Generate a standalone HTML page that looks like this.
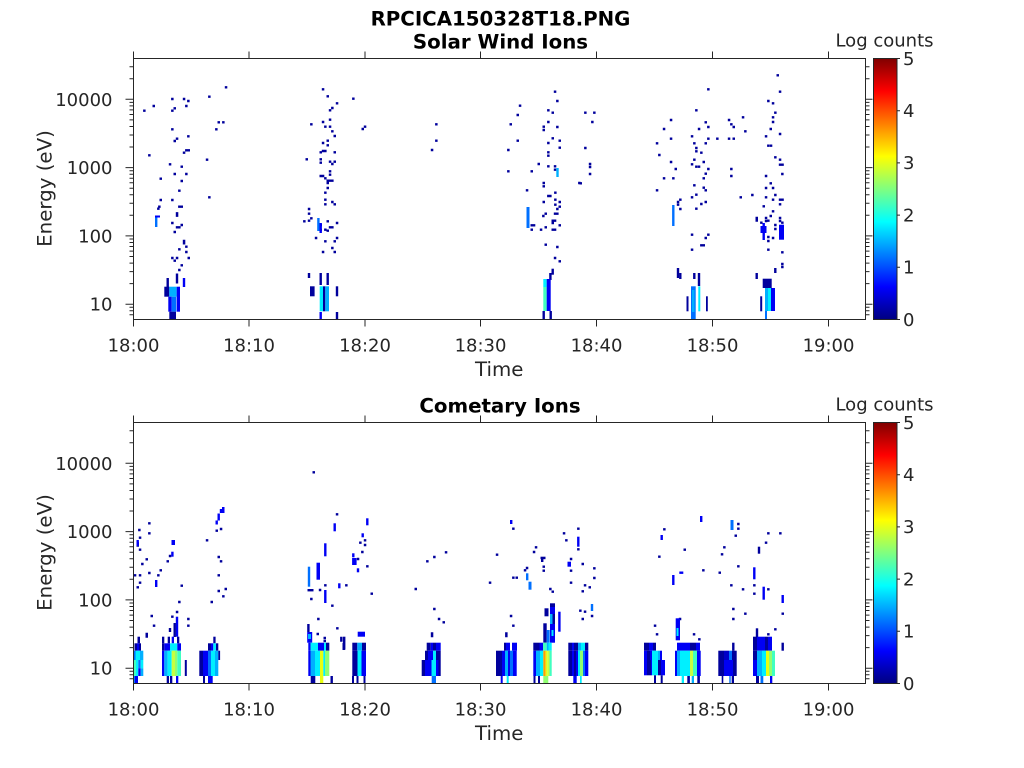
<!DOCTYPE html>
<html><head><meta charset="utf-8"><style>
html,body{margin:0;padding:0;background:#fff;}
svg{display:block;}
.N{fill:#00009c}.B{fill:#0000f5}.L{fill:#0070ff}.A{fill:#00b0ff}.C{fill:#00f0ff}.T{fill:#40ffc0}.G{fill:#90ff70}.Y{fill:#e8ff10}.O{fill:#ffa000}.K{fill:#c8ff40}
text{font-family:"DejaVu Sans","Liberation Sans",sans-serif;fill:#262626;}
.tk{font-size:18px;}
.lb{font-size:19.8px;}
.tt{font-size:19.8px;font-weight:bold;fill:#000;}
</style></head><body>
<svg width="1024" height="768" viewBox="0 0 1024 768" xmlns="http://www.w3.org/2000/svg">
<defs>
<linearGradient id="jet" x1="0" y1="0" x2="0" y2="1">
<stop offset="0" stop-color="#800000"/><stop offset="0.125" stop-color="#ff0000"/><stop offset="0.375" stop-color="#ffff00"/><stop offset="0.625" stop-color="#00ffff"/><stop offset="0.875" stop-color="#0000ff"/><stop offset="1" stop-color="#000080"/>
</linearGradient>
<g id="ax" fill="none" stroke="#262626" stroke-width="1">
<path d="M133.5 58.5H865.5V319.5H133.5Z"/>
<path d="M133.5 319.5v7M249 319.5v7M365 319.5v7M480.5 319.5v7M596.5 319.5v7M712.5 319.5v7M828.5 319.5v7M133.5 58.5v-7M249 58.5v-7M365 58.5v-7M480.5 58.5v-7M596.5 58.5v-7M712.5 58.5v-7M828.5 58.5v-7"/>
<path d="M125.5 99.3h8M865.5 99.3h7M125.5 167.6h8M865.5 167.6h7M125.5 235.9h8M865.5 235.9h7M125.5 304.2h8M865.5 304.2h7"/>
<path d="M129.5 314.8h4M865.5 314.8h4M129.5 310.8h4M865.5 310.8h4M129.5 307.3h4M865.5 307.3h4M129.5 283.6h4M865.5 283.6h4M129.5 271.6h4M865.5 271.6h4M129.5 263.1h4M865.5 263.1h4M129.5 256.5h4M865.5 256.5h4M129.5 251.1h4M865.5 251.1h4M129.5 246.5h4M865.5 246.5h4M129.5 242.5h4M865.5 242.5h4M129.5 239h4M865.5 239h4M129.5 215.3h4M865.5 215.3h4M129.5 203.3h4M865.5 203.3h4M129.5 194.8h4M865.5 194.8h4M129.5 188.2h4M865.5 188.2h4M129.5 182.8h4M865.5 182.8h4M129.5 178.2h4M865.5 178.2h4M129.5 174.2h4M865.5 174.2h4M129.5 170.7h4M865.5 170.7h4M129.5 147h4M865.5 147h4M129.5 135h4M865.5 135h4M129.5 126.5h4M865.5 126.5h4M129.5 119.9h4M865.5 119.9h4M129.5 114.5h4M865.5 114.5h4M129.5 109.9h4M865.5 109.9h4M129.5 105.9h4M865.5 105.9h4M129.5 102.4h4M865.5 102.4h4M129.5 78.7h4M865.5 78.7h4M129.5 66.7h4M865.5 66.7h4"/>
<rect x="873.5" y="58.5" width="23.5" height="261" fill="url(#jet)"/>
<path d="M897 58.5h3M897 110.7h3M897 162.9h3M897 215.1h3M897 267.3h3M897 319.5h3"/>
</g>
</defs>

<!-- ===== TOP PANEL DATA ===== -->
<g>
<path fill="none" stroke="#00009c" stroke-width="2.4" stroke-linecap="square" d="M226 87.3h.1M209.3 96.7h.1M172.3 99h.1M184 99h.1M188.3 101h.1M153.7 106h.1M186.3 106h.1M144.3 110.7h.1M172.3 110.7h.1M174.7 108.3h.1M218.7 122.3h.1M223.3 122.3h.1M216.3 129.3h.1M172.3 129.3h.1M188.3 136.3h.1M177 138.7h.1M174.7 141h.1M186.3 150.3h.1M188.7 150.3h.1M184 152.7h.1M149.3 155.3h.1M207 159.7h.1M170 164.3h.1M181.7 166.7h.1M174.7 174h.1M186.3 174h.1M160.7 178.7h.1M181.7 181h.1M179.3 190.7h.1M209.3 197.3h.1M160.7 200h.1M172.3 200h.1M159.3 206.7h.1M158.3 208.7h.1M179.3 206.7h.1M181.7 206.7h.1M177 213.3h.1M177 215.7h.1M172.3 223h.1M177 227.3h.1M179.3 227.3h.1M181.7 225h.1M174.7 232h.1M184 241h.1M184 243.3h.1M186.3 246.7h.1M179.3 249.3h.1M186.3 252h.1M172.3 258h.1M177 258h.1M174.7 260.7h.1M188.7 258h.1M181.7 265.3h.1M179.3 270h.1
M323 89.3h.1M327.7 96.3h.1M337 103.3h.1M353.3 98.7h.1M332.3 108h.1M330 110.3h.1M323 122h.1M330 119.7h.1M311.3 124.3h.1M325.3 126.7h.1M330 126.7h.1M332.3 131.3h.1M334.7 136h.1M362.7 129h.1M365 126.7h.1M436.3 124.3h.1M436.3 140.7h.1M432 150h.1M327.7 140.7h.1M323 143h.1M327.7 145.3h.1M320.7 152.3h.1M323 151h.1M325.3 151h.1M334.7 152.3h.1M306.7 159.3h.1M320.7 159.3h.1M320.7 162.7h.1M330 161.7h.1M332.3 164h.1M334.7 161.7h.1M330 171.3h.1M330 174.7h.1M320.7 176h.1M323 176h.1M325.3 178.3h.1M327.7 180.7h.1M330 180.7h.1M332.3 180.7h.1M327.7 183h.1M327.7 188h.1M325.3 192.7h.1M325.3 199.7h.1M325.3 204.3h.1M332.3 202h.1M334.7 204.3h.1M309 209h.1M309 213.7h.1M311.3 218.3h.1M309 220.7h.1M304.3 221.3h.1M327.7 221.3h.1M330 227.3h.1M332.3 227.3h.1M325.3 229.7h.1M327.7 230.7h.1M337 223h.1M316 238h.1M325.3 241.3h.1M334.7 241.3h.1M337 238h.1M332.3 248h.1M323 252h.1M334.7 252h.1M320.7 225h.1M320.7 230h.1
M555 91.7h.1M557.3 101h.1M520 105.7h.1M548.3 110.3h.1M552.7 112.7h.1M517.7 115h.1M510.7 124.3h.1M548.3 122h.1M543.7 126.7h.1M543.7 130h.1M557.3 127h.1M552.7 138.3h.1M559.7 140.7h.1M517.7 140.7h.1M548.3 143h.1M559.7 147.7h.1M508.3 150h.1M548.3 152.3h.1M548.3 155.7h.1M538.7 164h.1M548.3 166.3h.1M555 166.3h.1M555 169.7h.1M508.3 171.3h.1M531.7 171.3h.1M543.7 183h.1M543.7 186.3h.1M527 190.3h.1M555.3 192.7h.1M548.3 196h.1M550.3 196h.1M543.7 202h.1M555.3 199.7h.1M555.3 204.7h.1M559.7 202h.1M559.7 206.7h.1M557.3 209h.1M555 213.7h.1M557.3 213.7h.1M545.7 213.7h.1M543.3 216h.1M552.7 220.7h.1M555 220.7h.1M552.7 223h.1M531.7 225.3h.1M534 225.3h.1M559.7 225.3h.1M531.7 229.7h.1M541 229.7h.1M545.7 227.3h.1M552.7 229.7h.1M555 229.7h.1M545.7 244.7h.1M557.3 247h.1M555 258h.1M559.7 261.3h.1M579.3 183h.1
M585.3 112.7h.1M594.3 112.7h.1M592.3 122h.1M585.3 148h.1M590 164h.1M590 167h.1M590 174h.1M580.7 183.3h.1M708.3 89.3h.1M696.3 110.3h.1M671 120h.1M705.7 122.3h.1M708.3 127h.1M664 129h.1M699 129h.1M671 138.7h.1M692 136.3h.1M708.3 138.7h.1M717.3 138.7h.1M657 143.3h.1M694.3 143.3h.1M705.7 143.3h.1M696.3 148h.1M696.3 151.3h.1M701.3 152.7h.1M659.3 155h.1M694.3 159.7h.1M703.7 162h.1M671 162h.1M692 164.3h.1M696.3 166.7h.1M699 166.7h.1M675.7 169h.1M708.3 169h.1M705.7 173.7h.1M703.7 178.3h.1M664 178.3h.1M673.3 178.3h.1M694.3 185.3h.1M703.7 187.7h.1M705.7 190.3h.1M657 190.3h.1M696.3 194.7h.1M692 197.3h.1M705.7 202h.1M701.3 204h.1M680.3 199.7h.1M678 202h.1M678 204.7h.1M680.3 209h.1M696.3 208.7h.1M692 234.7h.1M708.3 234.7h.1M705.7 238h.1M703.7 245.3h.1M701.3 245.3h.1M692 249.7h.1
M729 120h.1M731.3 124.3h.1M733.7 127h.1M743 117.3h.1M745.3 131.3h.1M729 138.7h.1M733.7 138.7h.1M731.3 169h.1M731.3 176h.1M740.7 197.3h.1M752.3 195h.1
M777.7 75.3h.1M780 91.7h.1M768.3 101h.1M773 103.3h.1M775.3 112.7h.1M773 117.3h.1M773 122h.1M770.7 129h.1M780 134h.1M766 136.3h.1M768.3 145.7h.1M771 145.7h.1M775.3 157.3h.1M780 159.7h.1M780 164.7h.1M782.5 164.7h.1M782.3 174h.1M766 176h.1M770.7 183.3h.1M766 188h.1M773 188h.1M766 197.3h.1M775.3 195h.1M773 199.7h.1M780 199.7h.1M782.5 199.7h.1M780 204.3h.1M763.7 206.3h.1M773 211.3h.1M770.7 216h.1M756.7 218h.1M756.7 220.5h.1M766 218h.1M766 221h.1M780 218h.1M780 221h.1M768.3 220.7h.1M761.3 222.7h.1M782.3 222.7h.1M775.3 225h.1M775.3 229h.1M768.3 237h.1M768.3 241h.1M773 238h.1M768.3 249.7h.1M782.3 252.3h.1M782.3 264h.1M782.3 267h.1"/>
<!-- 18:02-18:03 -->
<rect class="L" x="155" y="216" width="2.4" height="11"/>
<rect class="B" x="155" y="215.5" width="5" height="2"/>
<rect class="N" x="175.8" y="273.5" width="2.4" height="10"/>
<rect class="N" x="166.5" y="278" width="2.4" height="9"/>
<rect class="B" x="182.8" y="278" width="2.4" height="9"/>
<rect class="N" x="164.3" y="286.7" width="5" height="10"/>
<rect class="A" x="169.3" y="286.7" width="7.4" height="10"/>
<rect class="B" x="176.7" y="286.7" width="3.3" height="25"/>
<rect class="B" x="168.3" y="296.7" width="3.4" height="15"/>
<rect class="L" x="171.7" y="296.7" width="4.5" height="15"/>
<rect class="N" x="169.3" y="311.7" width="6.7" height="7.5"/>
<!-- 18:16 -->
<rect class="L" x="317.2" y="218" width="2.4" height="13"/>
<rect class="B" x="319.5" y="223" width="2.4" height="10"/>
<rect class="N" x="307.8" y="273" width="2.4" height="5"/>
<rect class="N" x="319.5" y="273" width="2.4" height="12"/>
<rect class="N" x="326.5" y="273" width="2.4" height="12"/>
<rect class="N" x="310" y="286.3" width="4.6" height="10"/>
<rect class="C" x="319.7" y="286.3" width="3.3" height="25"/>
<rect class="N" x="323" y="286.3" width="2.3" height="25"/>
<rect class="A" x="325.3" y="286.3" width="3.7" height="25"/>
<rect class="N" x="335.8" y="286.3" width="2.4" height="10"/>
<rect class="B" x="319.5" y="312" width="2.4" height="7"/>
<rect class="N" x="335.8" y="312" width="2.4" height="7"/>
<!-- 18:35 -->
<rect class="A" x="556.3" y="168" width="2.4" height="9"/>
<rect class="L" x="526.5" y="207" width="3" height="21"/>
<rect class="N" x="551.5" y="268.7" width="2.4" height="6"/>
<rect class="N" x="549.2" y="273" width="2.4" height="7"/>
<rect class="C" x="543.3" y="279" width="3.4" height="8"/>
<rect class="T" x="543.3" y="287" width="3.4" height="24"/>
<rect class="B" x="546.7" y="279" width="4" height="32"/>
<rect class="N" x="542.5" y="311" width="2.4" height="8"/>
<rect class="N" x="549.5" y="311" width="2.4" height="8"/>
<!-- 18:48 -->
<rect class="L" x="672.1" y="205" width="2.4" height="21"/>
<rect class="N" x="676.8" y="268" width="2.4" height="10"/>
<rect class="N" x="679.1" y="273" width="2.4" height="6"/>
<rect class="N" x="693.1" y="273" width="2.4" height="6"/>
<rect class="N" x="697.8" y="273" width="2.4" height="13"/>
<rect class="L" x="691" y="286.3" width="4.7" height="32.7"/>
<rect class="A" x="692" y="290" width="2.5" height="22"/>
<rect class="C" x="698.3" y="286.3" width="2" height="25"/>
<rect class="N" x="686.5" y="296.3" width="2" height="15"/>
<rect class="N" x="706" y="296.3" width="1.8" height="15"/>
<!-- 18:55 -->
<rect class="B" x="762.5" y="223" width="2.4" height="17"/>
<rect class="B" x="760.5" y="226" width="6" height="7"/>
<rect class="B" x="779" y="224.7" width="5" height="15"/>
<rect class="N" x="774.1" y="268" width="2.4" height="5"/>
<rect class="N" x="755.5" y="273" width="2.4" height="6"/>
<rect class="N" x="762.7" y="278.7" width="9" height="9.3"/>
<rect class="A" x="765" y="288" width="3" height="23"/>
<rect class="C" x="768" y="288" width="3" height="23"/>
<rect class="B" x="771" y="288" width="4" height="23"/>
<rect class="N" x="760.2" y="296.3" width="2" height="15"/>
<rect class="L" x="765" y="311" width="2" height="8"/>
</g>

<!-- ===== BOTTOM PANEL DATA ===== -->
<g>
<path fill="none" stroke="#00009c" stroke-width="2.4" stroke-linecap="square" d="M139.3 530h.1M149.3 523.3h.1M149.3 533.3h.1M140 537.7h.1M137.7 543.3h.1M137.7 545.5h.1M140 549.7h.1M142.3 564h.1M146.7 559.3h.1M135 575.3h.1M140 575.3h.1M149.3 573h.1M158.3 575.3h.1M160.7 570.3h.1M140 582.7h.1M137.7 587.3h.1M181.7 585.7h.1M179.3 602h.1M151.7 616h.1M154 625.7h.1M188.3 619h.1M188.3 625.7h.1M216.7 530.7h.1M221 529h.1M207 540.3h.1M218.7 557h.1M221 561.3h.1M218.7 575.3h.1M218.7 591h.1M225.7 589h.1M223.3 596.3h.1M211.7 602h.1M167.7 561.3h.1M170 556h.1M177 612h.1M172.3 616.7h.1M146.7 634h.1M146.7 636.5h.1
M313.7 472.3h.1M337 514.3h.1M320 590h.1M325.3 585.3h.1M311.3 599h.1M318.3 619h.1M332.3 605.7h.1M346.3 585.3h.1M337.3 628.3h.1M317.7 634h.1M324.7 638h.1M324.7 641h.1M341.3 638h.1M341.3 640.5h.1
M365 545h.1M360.3 542.7h.1M365 540.3h.1M358 559h.1M362.3 552h.1M367.3 566.3h.1M371.7 593.7h.1
M415.7 589h.1M427.3 561.3h.1M434.3 557h.1M446 552.3h.1M434.3 609h.1M439 619h.1M443.7 622.3h.1M432 633.5h.1M432 636h.1
M490 582.7h.1M497 554.7h.1M513.3 528.7h.1M536 547.3h.1M534 552h.1M527 568h.1M525 570.3h.1M543.7 566.7h.1M543.7 570.7h.1M513.3 577.7h.1M516.7 577.7h.1M511 616h.1M513.3 625.7h.1M550.3 589h.1M552.7 591.7h.1M506.3 633.5h.1M506.3 636h.1
M564 533.3h.1M566.3 540.3h.1M578.3 528.7h.1M578.3 549.3h.1M571 559h.1M571 570.7h.1M582.7 564h.1M571 582.7h.1M582.7 591.3h.1M585 585.3h.1M589.7 587.3h.1M594.3 568.3h.1M594.3 578h.1M580.3 610.7h.1M585 611.7h.1M592 616h.1M582.7 619h.1
M655 625.7h.1M657 634.3h.1M664.3 529.3h.1M659.3 556.7h.1
M680 619h.1M677.7 625.7h.1M694 634.3h.1M699.3 639.3h.1M684.7 549.7h.1M703.3 570.3h.1
M733.3 609h.1M733.3 619h.1M745.3 613.7h.1M731.3 585.3h.1M743 589.3h.1M754.3 585.3h.1M754.3 593.7h.1M719.7 572.7h.1M738.3 566.3h.1M722 554.3h.1M724.3 547.3h.1M738.3 524h.1M738.3 528.7h.1M735.7 535.7h.1M766 542.7h.1M768.3 533.3h.1M780.3 533.3h.1M768.3 589.3h.1M782.7 613.7h.1M775.3 629.3h.1M768.3 634.3h.1"/>
<!-- 18:00-18:08 bars -->
<rect class="B" x="155" y="580" width="2.4" height="7"/>
<rect class="B" x="136.5" y="540" width="2.4" height="6"/>
<rect class="B" x="171.5" y="540" width="3.5" height="5"/>
<rect class="B" x="171.2" y="551.7" width="2.4" height="5"/>
<rect class="B" x="175.8" y="616.7" width="2.4" height="20"/>
<rect class="N" x="173.5" y="623" width="2.4" height="14"/>
<rect class="N" x="168.8" y="628" width="2.4" height="4"/>
<rect class="B" x="222" y="507" width="2.5" height="6"/>
<rect class="B" x="219.8" y="509" width="2.4" height="4"/>
<rect class="B" x="217.5" y="513.5" width="2.4" height="7"/>
<rect class="B" x="215.5" y="520.5" width="2.4" height="4"/>
<!-- 18:00 block -->
<rect class="N" x="137.5" y="636.7" width="2.5" height="6.6"/>
<rect class="N" x="134.5" y="643.3" width="2.5" height="7.4"/>
<rect class="B" x="137" y="643.3" width="2" height="7.4"/>
<rect class="N" x="139" y="643.3" width="2" height="7.4"/>
<rect class="L" x="133.5" y="650.7" width="2" height="9.3"/>
<rect class="C" x="135.5" y="650.7" width="4.5" height="9.3"/>
<rect class="A" x="140" y="650.7" width="3.3" height="9.3"/>
<rect class="T" x="133.5" y="660" width="2.5" height="16"/>
<rect class="C" x="136" y="660" width="2.3" height="16"/>
<rect class="L" x="138.3" y="660" width="2.4" height="8.3"/>
<rect class="B" x="138.3" y="668.3" width="2.4" height="7.7"/>
<rect class="C" x="140.7" y="660" width="2.6" height="8.3"/>
<rect class="A" x="140.7" y="668.3" width="2.6" height="7.7"/>
<rect class="L" x="133.5" y="676" width="1.5" height="7"/>
<rect class="B" x="135" y="676" width="3" height="7"/>
<!-- 18:03 block -->
<rect class="N" x="162" y="636.7" width="2.3" height="6.6"/>
<rect class="N" x="167.7" y="636.7" width="2.3" height="6.6"/>
<rect class="B" x="171.7" y="636.7" width="2.3" height="6.6"/>
<rect class="N" x="177" y="636.7" width="2.3" height="6.6"/>
<rect class="N" x="162" y="643.3" width="2.3" height="7.4"/>
<rect class="B" x="164.3" y="643.3" width="5.7" height="7.4"/>
<rect class="C" x="170" y="643.3" width="7.3" height="7.4"/>
<rect class="B" x="177.3" y="643.3" width="3.7" height="7.4"/>
<rect class="B" x="162" y="650.7" width="2.3" height="25.3"/>
<rect class="A" x="164.3" y="650.7" width="3.4" height="25.3"/>
<rect class="C" x="167.7" y="650.7" width="4" height="25.3"/>
<rect class="K" x="171.7" y="650.7" width="3.3" height="25.3"/>
<rect class="G" x="175" y="650.7" width="2.3" height="25.3"/>
<rect class="T" x="177.3" y="650.7" width="3.7" height="25.3"/>
<rect class="N" x="166.7" y="676" width="2.3" height="7"/>
<rect class="N" x="170" y="676" width="2.3" height="7"/>
<rect class="B" x="176" y="676" width="2.3" height="7"/>
<rect class="N" x="184.8" y="660" width="2" height="16"/>
<!-- 18:07 block -->
<rect class="N" x="213.3" y="636.7" width="2.3" height="6.6"/>
<rect class="N" x="208" y="643.3" width="3" height="7.4"/>
<rect class="B" x="211" y="643.3" width="2.3" height="7.4"/>
<rect class="C" x="213.3" y="643.3" width="2.7" height="7.4"/>
<rect class="N" x="216" y="643.3" width="2.3" height="7.4"/>
<rect class="N" x="199.3" y="650.7" width="3.7" height="25.3"/>
<rect class="B" x="203" y="650.7" width="5" height="25.3"/>
<rect class="L" x="208" y="650.7" width="3" height="25.3"/>
<rect class="C" x="211" y="650.7" width="4" height="25.3"/>
<rect class="A" x="215" y="650.7" width="3.3" height="25.3"/>
<rect class="N" x="218.3" y="650.7" width="1.8" height="9.3"/>
<rect class="N" x="203" y="676" width="2" height="7"/>
<rect class="B" x="208" y="676" width="4.7" height="7"/>
<!-- 18:15 -->
<rect class="L" x="307.8" y="566.7" width="2.4" height="20"/>
<rect class="B" x="316.5" y="562.7" width="3.5" height="17"/>
<rect class="B" x="324.1" y="543.3" width="2.4" height="13"/>
<rect class="B" x="324.1" y="590" width="2.4" height="13"/>
<rect class="B" x="333.5" y="523.3" width="2.4" height="8"/>
<rect class="B" x="338.1" y="583.3" width="2.4" height="5"/>
<rect class="N" x="307.5" y="589" width="6" height="2.4"/>
<rect class="N" x="307.2" y="624" width="2.4" height="8"/>
<rect class="B" x="307.2" y="632" width="5" height="10.7"/>
<rect class="A" x="308" y="634" width="3" height="5"/>
<rect class="N" x="342.5" y="642.7" width="2.4" height="7.3"/>
<rect class="B" x="308.3" y="642.7" width="2.2" height="8"/>
<rect class="C" x="310.5" y="642.7" width="7.5" height="8"/>
<rect class="B" x="318" y="642.7" width="6" height="8"/>
<rect class="C" x="324" y="642.7" width="2" height="8"/>
<rect class="N" x="326" y="642.7" width="3.3" height="8"/>
<rect class="B" x="308.3" y="650.7" width="2.2" height="25.3"/>
<rect class="A" x="310.5" y="650.7" width="4.5" height="25.3"/>
<rect class="C" x="315" y="650.7" width="5" height="25.3"/>
<rect class="Y" x="320" y="650.7" width="3.3" height="25.3"/>
<rect class="C" x="323.3" y="650.7" width="1.7" height="25.3"/>
<rect class="G" x="325" y="650.7" width="4.3" height="25.3"/>
<rect class="N" x="310.7" y="676" width="4.6" height="7.3"/>
<rect class="Y" x="320" y="676" width="3.3" height="7.3"/>
<rect class="N" x="330.5" y="676" width="2.4" height="7.3"/>
<!-- 18:20 -->
<rect class="B" x="366.1" y="518.3" width="2.4" height="7"/>
<rect class="B" x="361.5" y="533.3" width="2.4" height="4"/>
<rect class="B" x="352.1" y="553.3" width="2.4" height="4"/>
<rect class="B" x="352.1" y="558" width="4.5" height="7"/>
<rect class="B" x="356.8" y="568.3" width="2.4" height="4"/>
<rect class="N" x="343" y="636.7" width="2.4" height="13"/>
<rect class="B" x="357.7" y="631.7" width="7.3" height="5"/>
<rect class="N" x="352.3" y="642.7" width="5" height="8"/>
<rect class="A" x="357.3" y="642.7" width="4.7" height="8"/>
<rect class="N" x="362" y="642.7" width="4" height="8"/>
<rect class="N" x="352.3" y="650.7" width="5.2" height="25.3"/>
<rect class="C" x="357.5" y="650.7" width="4" height="25.3"/>
<rect class="B" x="361.5" y="650.7" width="4.5" height="25.3"/>
<rect class="N" x="352" y="676" width="2" height="7"/>
<rect class="N" x="356.5" y="676" width="2" height="7"/>
<rect class="N" x="363.5" y="676" width="2" height="7"/>
<!-- 18:25 -->
<rect class="N" x="426.7" y="642.7" width="4" height="8"/>
<rect class="B" x="430.7" y="642.7" width="2.3" height="8"/>
<rect class="N" x="433" y="642.7" width="3" height="8"/>
<rect class="B" x="436" y="642.7" width="4.7" height="8"/>
<rect class="N" x="425" y="650.7" width="3" height="9.3"/>
<rect class="B" x="428" y="650.7" width="5" height="9.3"/>
<rect class="C" x="433" y="650.7" width="3" height="9.3"/>
<rect class="N" x="436" y="650.7" width="4.7" height="9.3"/>
<rect class="N" x="421.7" y="660" width="3.3" height="16"/>
<rect class="B" x="425" y="660" width="6.5" height="16"/>
<rect class="C" x="431.5" y="660" width="4.5" height="16"/>
<rect class="B" x="436" y="660" width="2.5" height="16"/>
<rect class="N" x="438.5" y="660" width="2.2" height="16"/>
<rect class="L" x="431.7" y="676" width="4.3" height="7"/>
<!-- 18:31 -->
<rect class="B" x="510" y="520" width="2.4" height="4"/>
<rect class="N" x="540.5" y="556.7" width="5" height="2.5"/>
<rect class="N" x="541" y="557" width="2.4" height="5"/>
<rect class="L" x="526" y="573.3" width="2.4" height="7"/>
<rect class="L" x="528.5" y="581.7" width="3" height="8"/>
<rect class="N" x="504" y="642.7" width="2" height="8"/>
<rect class="B" x="506" y="642.7" width="4" height="8"/>
<rect class="B" x="512" y="642.7" width="5" height="8"/>
<rect class="N" x="496" y="650.7" width="6" height="25.3"/>
<rect class="B" x="502" y="650.7" width="3" height="25.3"/>
<rect class="A" x="505" y="650.7" width="3" height="25.3"/>
<rect class="B" x="508" y="650.7" width="2" height="25.3"/>
<rect class="L" x="510" y="650.7" width="3" height="25.3"/>
<rect class="B" x="513" y="650.7" width="3.7" height="25.3"/>
<rect class="B" x="500.7" y="676" width="2" height="7"/>
<rect class="C" x="506.7" y="676" width="2" height="7"/>
<!-- 18:35 column + block -->
<rect class="N" x="550" y="603.3" width="5" height="4"/>
<rect class="B" x="550" y="607" width="5" height="7"/>
<rect class="A" x="550" y="614" width="2.5" height="10"/>
<rect class="N" x="552.5" y="614" width="2.5" height="10"/>
<rect class="B" x="550" y="624" width="5" height="18.7"/>
<rect class="C" x="551.5" y="630" width="2" height="6"/>
<rect class="B" x="558.2" y="611.7" width="2.4" height="20"/>
<rect class="N" x="544.5" y="608.3" width="4" height="8"/>
<rect class="N" x="543.3" y="623.3" width="3.4" height="19.4"/>
<rect class="L" x="546.7" y="630" width="3" height="12.7"/>
<rect class="N" x="533.3" y="642.7" width="6.2" height="8"/>
<rect class="B" x="539.5" y="642.7" width="3.5" height="8"/>
<rect class="T" x="543" y="642.7" width="3.7" height="8"/>
<rect class="A" x="546.7" y="642.7" width="1.8" height="8"/>
<rect class="C" x="548.5" y="642.7" width="3.2" height="8"/>
<rect class="B" x="533.3" y="650.7" width="2.7" height="25.3"/>
<rect class="A" x="536" y="650.7" width="4" height="25.3"/>
<rect class="C" x="540" y="650.7" width="3.3" height="25.3"/>
<rect class="O" x="543.3" y="650.7" width="2.4" height="25.3"/>
<rect class="Y" x="545.7" y="650.7" width="1.5" height="25.3"/>
<rect class="K" x="547.2" y="650.7" width="2.3" height="25.3"/>
<rect class="T" x="549.5" y="650.7" width="2.2" height="25.3"/>
<rect class="N" x="533.5" y="676" width="2" height="7"/>
<rect class="N" x="538" y="676" width="2" height="7"/>
<rect class="G" x="543.3" y="676" width="5" height="7"/>
<!-- 18:37 -->
<rect class="B" x="577.1" y="536.7" width="2.4" height="10"/>
<rect class="B" x="567.5" y="561.7" width="3.5" height="5"/>
<rect class="L" x="590.8" y="604" width="2.4" height="7"/>
<rect class="N" x="568.3" y="642.7" width="3.7" height="8"/>
<rect class="B" x="572" y="642.7" width="2" height="8"/>
<rect class="N" x="574" y="642.7" width="4" height="8"/>
<rect class="A" x="578" y="642.7" width="3" height="8"/>
<rect class="C" x="581" y="642.7" width="4" height="8"/>
<rect class="N" x="585" y="642.7" width="3.3" height="8"/>
<rect class="N" x="568.3" y="650.7" width="3.7" height="25.3"/>
<rect class="B" x="572" y="650.7" width="2" height="25.3"/>
<rect class="N" x="574" y="650.7" width="2" height="25.3"/>
<rect class="B" x="576" y="650.7" width="2" height="25.3"/>
<rect class="C" x="578" y="650.7" width="2" height="25.3"/>
<rect class="G" x="580" y="650.7" width="3" height="25.3"/>
<rect class="L" x="583" y="650.7" width="2" height="25.3"/>
<rect class="B" x="585" y="650.7" width="3.3" height="25.3"/>
<rect class="B" x="573.3" y="676" width="3.4" height="7"/>
<rect class="C" x="580" y="676" width="1.7" height="7"/>
<!-- 18:45 -->
<rect class="B" x="660.5" y="535" width="2.4" height="5"/>
<rect class="B" x="672.1" y="575" width="2.4" height="10"/>
<rect class="N" x="644" y="642.7" width="5" height="8"/>
<rect class="B" x="649" y="642.7" width="4" height="8"/>
<rect class="N" x="653" y="642.7" width="3" height="8"/>
<rect class="B" x="644" y="650.7" width="3" height="9.3"/>
<rect class="N" x="647" y="650.7" width="3" height="9.3"/>
<rect class="B" x="650" y="650.7" width="2" height="9.3"/>
<rect class="C" x="652" y="650.7" width="6" height="9.3"/>
<rect class="A" x="658" y="650.7" width="2" height="9.3"/>
<rect class="B" x="660" y="650.7" width="2" height="9.3"/>
<rect class="B" x="644" y="660" width="3" height="15.3"/>
<rect class="N" x="647" y="660" width="4" height="15.3"/>
<rect class="B" x="651" y="660" width="1" height="15.3"/>
<rect class="C" x="652" y="660" width="6" height="15.3"/>
<rect class="N" x="658" y="660" width="3" height="15.3"/>
<rect class="B" x="661" y="660" width="4" height="15.3"/>
<rect class="N" x="654" y="675.3" width="2" height="7.7"/>
<rect class="N" x="660.7" y="675.3" width="2" height="7.7"/>
<!-- 18:47 -->
<rect class="B" x="679.3" y="571.5" width="4" height="2.4"/>
<rect class="B" x="700" y="516" width="2.4" height="6"/>
<rect class="B" x="675.7" y="618.3" width="4.3" height="22"/>
<rect class="C" x="676.5" y="628" width="2" height="8"/>
<rect class="B" x="677" y="642.7" width="13" height="8"/>
<rect class="N" x="690" y="642.7" width="6" height="8"/>
<rect class="B" x="696" y="642.7" width="4" height="8"/>
<rect class="B" x="675" y="650.7" width="2" height="25.3"/>
<rect class="A" x="677" y="650.7" width="3" height="25.3"/>
<rect class="C" x="680" y="650.7" width="10" height="25.3"/>
<rect class="K" x="690" y="650.7" width="3" height="25.3"/>
<rect class="T" x="693" y="650.7" width="4" height="25.3"/>
<rect class="B" x="697" y="650.7" width="3.7" height="25.3"/>
<rect class="C" x="681.7" y="676" width="2.3" height="7"/>
<rect class="N" x="687.3" y="676" width="2.6" height="7"/>
<rect class="A" x="691.7" y="676" width="2.3" height="7"/>
<rect class="N" x="697.3" y="676" width="2.6" height="7"/>
<!-- 18:51 -->
<rect class="L" x="730.5" y="520" width="3" height="10"/>
<rect class="B" x="753.1" y="567.3" width="2.4" height="12"/>
<rect class="N" x="757.8" y="546.7" width="2.4" height="7"/>
<rect class="B" x="762.5" y="586.7" width="2.4" height="13"/>
<rect class="B" x="781.5" y="595" width="2.4" height="8"/>
<rect class="N" x="781.5" y="642.7" width="2.4" height="8"/>
<rect class="N" x="755.8" y="628.3" width="2.4" height="15"/>
<rect class="N" x="732.1" y="642.7" width="2.4" height="8"/>
<rect class="N" x="718.3" y="650.7" width="5.7" height="25.3"/>
<rect fill="#0000c8" x="724" y="650.7" width="5" height="9.3"/>
<rect class="B" x="724" y="660" width="5" height="16"/>
<rect class="L" x="729" y="650.7" width="3" height="9.3"/>
<rect class="N" x="732" y="650.7" width="4.7" height="9.3"/>
<rect class="B" x="729" y="660" width="4" height="16"/>
<rect class="N" x="733" y="660" width="3.7" height="16"/>
<rect class="N" x="721.7" y="676" width="1.6" height="7"/>
<rect class="L" x="729.3" y="676" width="1.4" height="7"/>
<rect class="N" x="731.7" y="676" width="2.3" height="7"/>
<!-- 18:54 -->
<rect class="N" x="753" y="636.7" width="4" height="14"/>
<rect class="B" x="757" y="636.7" width="8" height="14"/>
<rect class="N" x="765" y="636.7" width="3" height="14"/>
<rect class="B" x="768" y="636.7" width="4" height="14"/>
<rect class="N" x="753" y="650.7" width="4" height="9.3"/>
<rect class="B" x="753" y="660" width="4" height="16"/>
<rect class="A" x="757" y="650.7" width="5" height="25.3"/>
<rect class="C" x="762" y="650.7" width="4" height="25.3"/>
<rect class="Y" x="766" y="650.7" width="3" height="25.3"/>
<rect class="G" x="769" y="650.7" width="3" height="25.3"/>
<rect class="T" x="772" y="650.7" width="3" height="25.3"/>
<rect class="N" x="756" y="676" width="3" height="7"/>
<rect class="L" x="760.5" y="676" width="2.8" height="7"/>
<rect class="B" x="770" y="676" width="2.3" height="7"/>
</g>

<!-- ===== AXES ===== -->
<use href="#ax"/>
<use href="#ax" y="364"/>

<!-- ===== TEXT ===== -->
<text class="tt" x="500.5" y="25.5" text-anchor="middle">RPCICA150328T18.PNG</text>
<text class="tt" x="500.5" y="48.5" text-anchor="middle">Solar Wind Ions</text>
<text class="tt" x="500" y="412.5" text-anchor="middle">Cometary Ions</text>

<text class="tk" x="884.5" y="46.7" text-anchor="middle">Log counts</text>
<text class="tk" x="884.5" y="410.7" text-anchor="middle">Log counts</text>

<g class="tk" text-anchor="end">
<text x="112.5" y="105.8">10000</text>
<text x="112.5" y="174.1">1000</text>
<text x="112.5" y="242.4">100</text>
<text x="112.5" y="310.7">10</text>
<text x="112.5" y="469.8">10000</text>
<text x="112.5" y="538.1">1000</text>
<text x="112.5" y="606.4">100</text>
<text x="112.5" y="674.7">10</text>
</g>

<g class="tk" text-anchor="middle">
<text x="133.5" y="351.5">18:00</text>
<text x="249" y="351.5">18:10</text>
<text x="365" y="351.5">18:20</text>
<text x="480.5" y="351.5">18:30</text>
<text x="596.5" y="351.5">18:40</text>
<text x="712.5" y="351.5">18:50</text>
<text x="828.5" y="351.5">19:00</text>
<text x="133.5" y="715.5">18:00</text>
<text x="249" y="715.5">18:10</text>
<text x="365" y="715.5">18:20</text>
<text x="480.5" y="715.5">18:30</text>
<text x="596.5" y="715.5">18:40</text>
<text x="712.5" y="715.5">18:50</text>
<text x="828.5" y="715.5">19:00</text>
</g>

<g class="tk">
<text x="903" y="64.8">5</text>
<text x="903" y="117">4</text>
<text x="903" y="169.2">3</text>
<text x="903" y="221.4">2</text>
<text x="903" y="273.6">1</text>
<text x="903" y="325.8">0</text>
<text x="903" y="428.8">5</text>
<text x="903" y="481">4</text>
<text x="903" y="533.2">3</text>
<text x="903" y="585.4">2</text>
<text x="903" y="637.6">1</text>
<text x="903" y="689.8">0</text>
</g>

<text class="lb" x="499.2" y="376" text-anchor="middle">Time</text>
<text class="lb" x="499.2" y="740" text-anchor="middle">Time</text>
<text class="lb" transform="translate(51.7 188.5) rotate(-90)" text-anchor="middle">Energy (eV)</text>
<text class="lb" transform="translate(51.7 552.5) rotate(-90)" text-anchor="middle">Energy (eV)</text>
</svg>
</body></html>
